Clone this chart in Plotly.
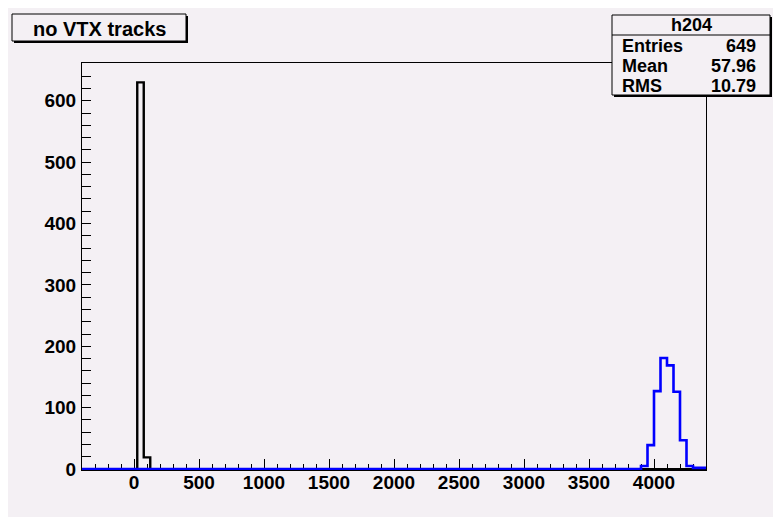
import plotly.graph_objects as go

# ---- data ----
bin_width = 50
black_bin_lo = [25, 75]
black_counts = [630, 19]
blue_bin_lo = [3900, 3950, 4000, 4050, 4100, 4150, 4200, 4250, 4300, 4350]
blue_counts = [5, 39, 127, 181, 169, 126, 47, 5, 2, 2]
x_ticks = [0, 500, 1000, 1500, 2000, 2500, 3000, 3500, 4000]
y_ticks = [0, 100, 200, 300, 400, 500, 600]
x_min, x_max = -400, 4400
y_max = 1.05 * max(black_counts)

title_text = "no VTX tracks"
stats_name = "h204"
stats_labels = ["Entries", "Mean", "RMS"]
stats_values = ["649", "57.96", "10.79"]

# ---- layout geometry (pixels, page coords; the figure sits at an 8px page offset) ----
OFF = 8
W, H = 781 - OFF, 517 - OFF
L, R, T, B = 82 - OFF, 706 - OFF, 63 - OFF, 470 - OFF
BG = "#f4f0f4"
FONT = "Liberation Sans"


def px_x(p):
    return (p - OFF - L) / (R - L)


def px_y(p):
    return (B - (p - OFF)) / (B - T)


def step_xy(lo, counts, w):
    xs = [x_min] + list(lo) + [lo[-1] + w, x_max]
    ys = [0] + list(counts) + [0, 0]
    return xs, ys


fig = go.Figure()
bx, by = step_xy(black_bin_lo, black_counts, bin_width)
fig.add_trace(go.Scatter(x=bx, y=by, mode="lines", line_shape="hv",
                         line=dict(color="#000000", width=2.4), hoverinfo="skip"))
ux, uy = step_xy(blue_bin_lo, blue_counts, bin_width)
fig.add_trace(go.Scatter(x=ux, y=uy, mode="lines", line_shape="hv",
                         line=dict(color="#0000ff", width=2.6), hoverinfo="skip"))

tickfont = dict(family=FONT, size=19, color="#000000", weight="bold")
fig.update_layout(
    width=W, height=H, showlegend=False,
    paper_bgcolor=BG, plot_bgcolor=BG,
    margin=dict(l=L, r=W - R, t=T, b=H - B, pad=0),
    xaxis=dict(range=[x_min, x_max], tickmode="array", tickvals=x_ticks,
               ticktext=[str(v) for v in x_ticks],
               ticks="inside", ticklen=11, tickwidth=1, tickcolor="#000000",
               minor=dict(ticks="inside", dtick=100, tick0=0, ticklen=6,
                          tickwidth=1, tickcolor="#000000", showgrid=False),
               showline=True, linecolor="#000000", linewidth=1, mirror=True,
               showgrid=False, zeroline=False, tickfont=tickfont,
               ticklabelstandoff=-5,
               layer="below traces", fixedrange=True),
    yaxis=dict(range=[-1.5, y_max], tickmode="array", tickvals=y_ticks,
               ticktext=[str(v) for v in y_ticks],
               ticks="inside", ticklen=9, tickwidth=1, tickcolor="#000000",
               minor=dict(ticks="inside", dtick=20, tick0=0, ticklen=9,
                          tickwidth=1, tickcolor="#000000", showgrid=False),
               showline=True, linecolor="#000000", linewidth=1, mirror=True,
               showgrid=False, zeroline=False, tickfont=tickfont,
               ticklabelstandoff=1,
               layer="below traces", fixedrange=True),
)

shapes = []


def box(x0, y0, x1, y1, sh=2):
    # shadow
    shapes.append(dict(type="rect", xref="paper", yref="paper",
                       x0=px_x(x0 + sh), x1=px_x(x1 + sh), y0=px_y(y1 + sh), y1=px_y(y0 + sh),
                       line=dict(width=0), fillcolor="#000000", layer="above"))
    shapes.append(dict(type="rect", xref="paper", yref="paper",
                       x0=px_x(x0), x1=px_x(x1), y0=px_y(y1), y1=px_y(y0),
                       line=dict(width=1, color="#000000"), fillcolor=BG, layer="above"))


# title box
box(12, 14, 186, 41)
# stats box
box(612, 15, 770, 95)
shapes.append(dict(type="line", xref="paper", yref="paper",
                   x0=px_x(612), x1=px_x(770), y0=px_y(35), y1=px_y(35),
                   line=dict(width=1, color="#000000"), layer="above"))

ann = []
bold = dict(family=FONT, color="#000000", weight="bold")
ann.append(dict(text=title_text, xref="paper", yref="paper", x=px_x(99), y=px_y(29),
                xanchor="center", yanchor="middle", showarrow=False,
                font=dict(size=20, **bold)))
ann.append(dict(text=stats_name, xref="paper", yref="paper", x=px_x(691), y=px_y(25.5),
                xanchor="center", yanchor="middle", showarrow=False,
                font=dict(size=18, **bold)))
row_y = [46, 66, 86]
for lab, val, yy in zip(stats_labels, stats_values, row_y):
    ann.append(dict(text=lab, xref="paper", yref="paper", x=px_x(620), y=px_y(yy),
                    xanchor="left", yanchor="middle", showarrow=False,
                    font=dict(size=18, **bold)))
    ann.append(dict(text=val, xref="paper", yref="paper", x=px_x(758), y=px_y(yy),
                    xanchor="right", yanchor="middle", showarrow=False,
                    font=dict(size=18, **bold)))

fig.update_layout(shapes=shapes, annotations=ann)
fig.write_html("out.html")
